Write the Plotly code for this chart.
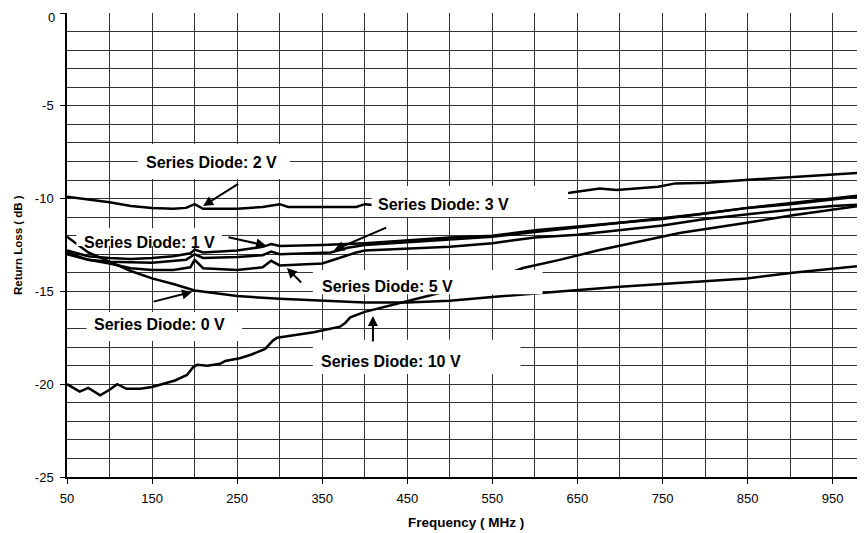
import plotly.graph_objects as go

# ---------------- data ----------------
f_0v = [50, 75, 100, 125, 150, 175, 200, 250, 300, 350, 400, 450, 500, 550, 600, 629, 700, 747, 797, 849, 903, 950, 988]
rl_0v = [-12.05, -12.9, -13.4, -13.9, -14.3, -14.6, -14.95, -15.25, -15.4, -15.5, -15.6, -15.6, -15.5, -15.3,
         -15.1, -15.0, -14.75, -14.6, -14.45, -14.3, -14.0, -13.8, -13.6]

f_1v = [50, 75, 100, 125, 150, 175, 195, 200, 210, 250, 280, 290, 300, 350, 400, 450, 500, 550, 600, 650, 700,
        750, 800, 850, 900, 950, 988]
rl_1v = [-12.8, -13.1, -13.2, -13.25, -13.2, -13.1, -12.95, -12.75, -12.9, -12.8, -12.6, -12.45, -12.55, -12.5,
         -12.4, -12.25, -12.1, -12.0, -11.7, -11.5, -11.3, -11.1, -10.8, -10.5, -10.3, -10.05, -9.85]

f_2v = [50, 75, 100, 125, 150, 175, 190, 200, 210, 250, 280, 300, 310, 350, 390, 400, 410, 450, 500, 550, 600,
        641, 676, 696, 745, 765, 803, 847, 900, 947, 988]
rl_2v = [-9.9, -10.05, -10.2, -10.4, -10.5, -10.55, -10.5, -10.3, -10.55, -10.55, -10.45, -10.3, -10.45, -10.45,
         -10.45, -10.3, -10.35, -10.3, -10.2, -10.0, -9.85, -9.68, -9.45, -9.54, -9.36, -9.18, -9.14, -9.0, -8.85,
         -8.72, -8.6]

f_3v = [50, 75, 100, 150, 190, 200, 210, 250, 280, 290, 300, 350, 360, 380, 400, 450, 500, 550, 600, 650, 700,
        750, 800, 850, 900, 950, 988]
rl_3v = [-12.9, -13.3, -13.4, -13.45, -13.3, -13.0, -13.2, -13.15, -13.05, -12.85, -13.0, -12.95, -12.9, -12.65,
         -12.5, -12.35, -12.2, -12.05, -11.8, -11.55, -11.3, -11.05, -10.8, -10.5, -10.25, -10.0, -9.8]

f_5v = [50, 75, 100, 125, 150, 175, 195, 200, 210, 250, 280, 290, 300, 350, 370, 390, 400, 450, 500, 550, 600,
        650, 700, 750, 800, 850, 900, 950, 988]
rl_5v = [-13.0, -13.3, -13.5, -13.75, -13.85, -13.85, -13.7, -13.3, -13.75, -13.85, -13.7, -13.35, -13.6, -13.5,
         -13.2, -12.9, -12.8, -12.7, -12.6, -12.4, -12.1, -11.95, -11.7, -11.45, -11.1, -10.85, -10.6, -10.4, -10.3]

f_10v = [50, 65, 75, 80, 89, 100, 109, 120, 136, 150, 163, 177, 191, 198, 203, 215, 230, 236, 253, 267, 283, 292,
         297, 312, 340, 371, 377, 383, 400, 474, 500, 550, 586, 629, 676, 747, 770, 849, 903, 988]
rl_10v = [-20.0, -20.4, -20.2, -20.35, -20.6, -20.3, -20.0, -20.25, -20.25, -20.15, -20.0, -19.8, -19.5, -19.1,
          -18.95, -19.0, -18.9, -18.75, -18.6, -18.4, -18.1, -17.65, -17.5, -17.4, -17.2, -16.9, -16.7, -16.4,
          -16.1, -15.25, -14.95, -14.35, -13.74, -13.3, -12.77, -12.1, -11.85, -11.3, -10.9, -10.35]

series = [
    ("Series Diode: 0 V", f_0v, rl_0v),
    ("Series Diode: 1 V", f_1v, rl_1v),
    ("Series Diode: 2 V", f_2v, rl_2v),
    ("Series Diode: 3 V", f_3v, rl_3v),
    ("Series Diode: 5 V", f_5v, rl_5v),
    ("Series Diode: 10 V", f_10v, rl_10v),
]

x_ticks = [50, 150, 250, 350, 450, 550, 650, 750, 850, 950]
y_ticks = [-25, -20, -15, -10, -5, 0]
# the top label "0" sits just below its grid line, so it is drawn separately
y_ticktext = ["-25", "-20", "-15", "-10", "-5", ""]

# label text position, white box [x0, x1, y0, y1], arrow tail and head
labels = [
    ("Series Diode: 2 V", (220, -8.08), (133, 312, -7.06, -8.94), (253, -9.16), (210, -10.40)),
    ("Series Diode: 1 V", (147, -12.34), (61, 232, -11.6, -12.55), (238, -12.07), (284, -12.53)),
    ("Series Diode: 0 V", (159, -16.81), (73, 256, -16.11, -17.67), (150, -15.57), (197, -15.03)),
    ("Series Diode: 3 V", (492, -10.34), (408, 639, -9.32, -10.99), (427, -11.53), (364, -12.77)),
    ("Series Diode: 5 V", (427, -14.76), (339, 609, -13.85, -15.15), (327, -14.60), (308.5, -13.74)),
    ("Series Diode: 10 V", (431, -18.75), (339, 583, -17.6, -19.45), (409.6, -17.78), (409.6, -16.33)),
]

FONT = "Liberation Sans, Arial, sans-serif"

fig = go.Figure()
for name, fx, fy in series:
    fig.add_trace(go.Scatter(x=fx, y=fy, mode="lines", name=name,
                             line=dict(color="black", width=2.5), showlegend=False))

shapes = []
annotations = []
for text, (tx, ty), (bx0, bx1, by0, by1), (ax_, ay_), (hx, hy) in labels:
    shapes.append(dict(type="rect", xref="x", yref="y", x0=bx0, x1=bx1, y0=by0, y1=by1,
                       fillcolor="white", line=dict(width=0), layer="above"))
    annotations.append(dict(x=tx, y=ty, xref="x", yref="y", text=f"<b>{text}</b>", showarrow=False,
                            font=dict(family=FONT, size=16, color="black")))
    annotations.append(dict(x=hx, y=hy, xref="x", yref="y", ax=ax_, ay=ay_, axref="x", ayref="y",
                            text="", showarrow=True, arrowhead=2, arrowsize=1, arrowwidth=2,
                            arrowcolor="black"))

# top y tick label
annotations.append(dict(x=0, y=y_ticks[-1], xref="paper", yref="y", xanchor="right", yanchor="top",
                        xshift=-10, yshift=5, text=str(y_ticks[-1]), showarrow=False,
                        font=dict(family=FONT, size=13)))

# axis titles placed as annotations for exact positioning
annotations.append(dict(x=0.5, y=0, xref="paper", yref="paper", yshift=-45, xanchor="center", yanchor="middle",
                        text="<b>Frequency ( MHz )</b>", showarrow=False, font=dict(family=FONT, size=13.5)))
annotations.append(dict(x=0, y=0.5, xref="paper", yref="paper", xshift=-49, xanchor="center", yanchor="middle",
                        textangle=-90, text="<b>Return Loss ( dB )</b>", showarrow=False,
                        font=dict(family=FONT, size=11.5)))

# the page places the figure 8 px in from the top-left corner
fig.update_layout(
    width=857, height=525,
    margin=dict(l=59, r=0, t=5, b=56, autoexpand=False),
    paper_bgcolor="white", plot_bgcolor="white",
    font=dict(family=FONT, size=13, color="black"),
    shapes=shapes, annotations=annotations,
    showlegend=False,
)
fig.update_xaxes(
    range=[50, 988], tickvals=x_ticks, ticks="outside", ticklen=5, tickcolor="black",
    showline=True, linecolor="black", linewidth=1.5, automargin=False,
    showgrid=True, gridcolor="#333", gridwidth=1,
    minor=dict(tick0=50, dtick=50, showgrid=True, gridcolor="#333", gridwidth=1, ticks=""),
    zeroline=False, ticklabeloverflow="allow", ticklabelstandoff=4,
    tickfont=dict(family=FONT, size=13),
)
fig.update_yaxes(
    range=[-25, 0], tickvals=y_ticks, ticktext=y_ticktext, ticks="outside", ticklen=5, tickcolor="black",
    showline=True, linecolor="black", linewidth=1.5, automargin=False,
    showgrid=True, gridcolor="#333", gridwidth=1,
    minor=dict(dtick=1, showgrid=True, gridcolor="#333", gridwidth=1, ticks=""),
    zeroline=False, ticklabeloverflow="allow", ticklabelstandoff=4,
    tickfont=dict(family=FONT, size=13),
)

fig.write_html("out.html")
